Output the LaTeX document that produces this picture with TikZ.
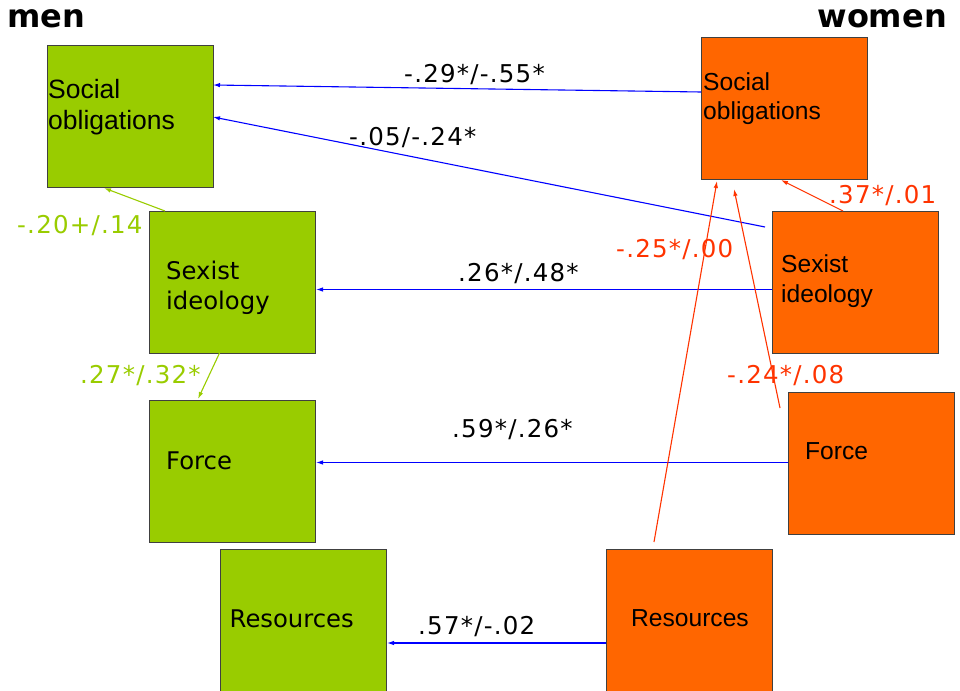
\documentclass[tikz,border=0pt]{standalone}
\usepackage{fontspec}
\usetikzlibrary{arrows.meta}
\setmainfont{DejaVu Sans}
\newfontfamily\verd{DejaVu Sans}
\newfontfamily\verdsp{DejaVu Sans}[LetterSpace=5]
\newfontfamily\arl{Liberation Sans}
\definecolor{mgreen}{HTML}{99CC00}
\definecolor{worange}{HTML}{FF6600}
\definecolor{wred}{HTML}{FF3300}
\definecolor{pblue}{HTML}{0000FF}
\tikzset{
  box/.style={draw=black!75, line width=0.9pt, anchor=north west, inner sep=0pt,
    minimum width=166pt, minimum height=142pt},
  mbox/.style={box, fill=mgreen},
  wbox/.style={box, fill=worange},
  btxt/.style={anchor=base west, inner sep=0pt, text=black},
  mtxt/.style={btxt, font=\verd\fontsize{24.3}{29}\selectfont},
  wtxt/.style={btxt, font=\arl\fontsize{24.6}{29}\selectfont},
  lbl/.style={anchor=base west, inner sep=0pt, font=\verdsp\fontsize{24.5}{29}\selectfont},
  head/.style={inner sep=0pt, font=\verd\bfseries\fontsize{32}{36}\selectfont},
  conn/.style={line width=1.1pt, -{Latex[length=7pt,width=4.5pt]}},
  bconn/.style={conn, draw=pblue},
  gconn/.style={conn, draw=mgreen},
  rconn/.style={conn, draw=wred}
}
\begin{document}
\begin{tikzpicture}[x=1pt, y=-1pt]
\useasboundingbox (0,0) rectangle (960,690);
\clip (0,0) rectangle (960,690);

% headings
\node[head, anchor=base west] (hmen) at (7,28) {men};
\node[head, anchor=base east] (hwomen) at (947,28) {women};

% men (green)
\node[mbox] (mSo) at (47,45) {};
\node[mbox] (mSe) at (149,211) {};
\node[mbox] (mFo) at (149,400) {};
\node[mbox, minimum height=160pt] (mRe) at (220,549) {};

% women (orange)
\node[wbox] (wSo) at (701,37) {};
\node[wbox] (wSe) at (772,211) {};
\node[wbox] (wFo) at (788,392) {};
\node[wbox, minimum height=160pt] (wRe) at (606,549) {};

% box texts
\node[btxt, font=\arl\fontsize{26.5}{30}\selectfont] (tmSo1) at (48,99) {Social};
\node[btxt, font=\arl\fontsize{26.5}{30}\selectfont] (tmSo2) at (48,129) {obligations};
\node[mtxt] (tmSe1) at (166,279) {Sexist};
\node[mtxt] (tmSe2) at (166,309) {ideology};
\node[mtxt] (tmFo) at (166,469) {Force};
\node[mtxt] (tmRe) at (229.5,627) {Resources};

\node[wtxt] (twSo1) at (703,91) {Social};
\node[wtxt] (twSo2) at (703,120) {obligations};
\node[wtxt] (twSe1) at (781,272) {Sexist};
\node[wtxt] (twSe2) at (781,302) {ideology};
\node[wtxt] (twFo) at (805,459) {Force};
\node[wtxt] (twRe) at (631,626) {Resources};

% connector end points
\coordinate (p1a) at (701,92);   \coordinate (p1b) at (213,85);
\coordinate (p2a) at (765,227);  \coordinate (p2b) at (213,117);
\coordinate (p3a) at (772,289.5);\coordinate (p3b) at (316,289.5);
\coordinate (p4a) at (788,462.5);\coordinate (p4b) at (316,462.5);
\coordinate (p5a) at (606,643);  \coordinate (p5b) at (387,643);
\coordinate (p6a) at (165,211);  \coordinate (p6b) at (104,188);
\coordinate (p7a) at (220,352);  \coordinate (p7b) at (198,399);
\coordinate (p8a) at (843,211);  \coordinate (p8b) at (781,180);
\coordinate (p9a) at (654,542);  \coordinate (p9b) at (717,181);
\coordinate (p10a) at (780,408); \coordinate (p10b) at (734,189);

% cross-sex paths (blue)
\draw[bconn] (p1a) -- (p1b);
\draw[bconn] (p2a) -- (p2b);
\draw[bconn] (p3a) -- (p3b);
\draw[bconn] (p4a) -- (p4b);
\draw[bconn] (p5a) -- (p5b);
% paths within men (green)
\draw[gconn] (p6a) -- (p6b);
\draw[gconn] (p7a) -- (p7b);
% paths within women (red)
\draw[rconn] (p8a) -- (p8b);
\draw[rconn] (p9a) -- (p9b);
\draw[rconn] (p10a) -- (p10b);

% coefficients
\node[lbl] (l1) at (404,83) {-.29*/-.55*};
\node[lbl] (l2) at (349,146) {-.05/-.24*};
\node[lbl] (l3) at (458,281) {.26*/.48*};
\node[lbl] (l4) at (452,437) {.59*/.26*};
\node[lbl] (l5) at (418,634) {.57*/-.02};
\node[lbl, text=mgreen] (l6) at (17,233) {-.20+/.14};
\node[lbl, text=mgreen] (l7) at (80,383) {.27*/.32*};
\node[lbl, text=wred] (l8) at (829,203) {.37*/.01};
\node[lbl, text=wred] (l9) at (616,257) {-.25*/.00};
\node[lbl, text=wred] (l10) at (727,383) {-.24*/.08};
\end{tikzpicture}
\end{document}
